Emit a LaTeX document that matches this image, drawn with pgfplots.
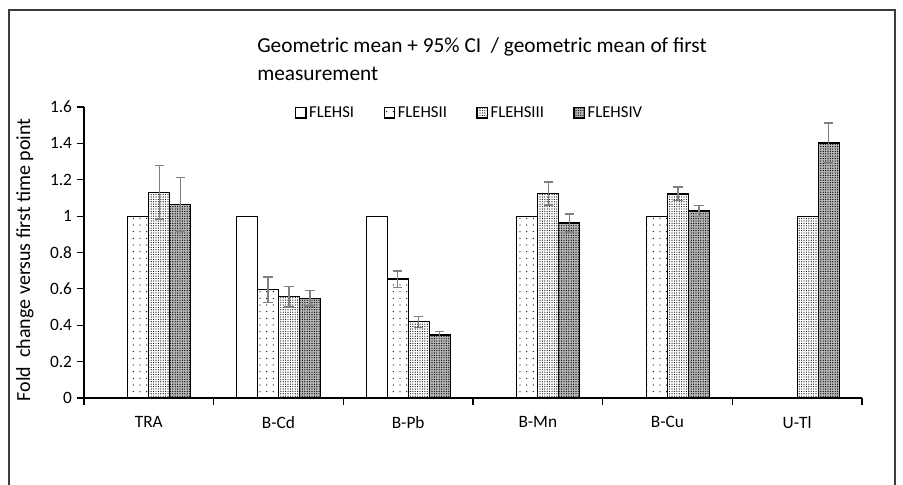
\documentclass[border=0pt]{standalone}
\usepackage{fontspec}
\setmainfont{Carlito}
\usepackage{pgfplots}
\pgfplotsset{compat=1.18}
\usetikzlibrary{patterns.meta}
\definecolor{errgray}{RGB}{128,128,128}
\definecolor{framegray}{RGB}{60,60,60}
\tikzset{
  s1/.style={draw=black, line width=0.9pt, fill=white},
  s2/.style={draw=black, line width=0.9pt, preaction={fill=white}, pattern={Dots[distance=5pt, radius=0.45pt]}, pattern color=black},
  s3/.style={draw=black, line width=0.9pt, preaction={fill=white}, pattern={Dots[distance=1.8pt, radius=0.45pt]}, pattern color=black},
  s4/.style={draw=black, line width=0.9pt, preaction={fill=gray!55}, pattern={Dots[distance=1.8pt, radius=0.5pt]}, pattern color=black},
}
\pgfplotsset{
  myerr/.style={error bars/.cd, y dir=both, y explicit,
    error bar style={errgray, line width=1.1pt},
    error mark options={rotate=90, errgray, mark size=3.6pt, line width=1.1pt}},
  mybar/.style={ybar, bar width=0.162, bar shift=0pt},
}
\begin{document}
\begin{tikzpicture}
\useasboundingbox (0,0) rectangle (677.25pt,363.75pt);
\draw[line width=1.3pt, framegray] (6.5pt,-5pt) -- (6.5pt,356pt) -- (671.5pt,356pt) -- (671.5pt,-5pt);
\node[anchor=west, font=\fontsize{16}{19}\selectfont, inner sep=0pt] at (192.75pt,328.5pt) {Geometric mean + 95\% CI\ \ / geometric mean of first};
\node[anchor=west, font=\fontsize{16}{19}\selectfont, inner sep=0pt] at (192.75pt,308pt) {measurement};
\begin{axis}[
  at={(63pt,65.25pt)}, anchor=south west,
  scale only axis, width=583.5pt, height=218.25pt,
  xmin=-0.5, xmax=5.5, ymin=0, ymax=1.6,
  axis x line*=bottom, axis y line*=left,
  axis line style={line width=0.9pt, -},
  tick align=outside,
  xtick={0,1,2,3,4,5}, xticklabels={TRA,B-Cd,B-Pb,B-Mn,B-Cu,U-Tl},
  major x tick style={draw=none},
  minor xtick={-0.5,0.5,1.5,2.5,3.5,4.5,5.5},
  minor tick length=5.5pt, major tick length=5.5pt,
  minor x tick style={black, line width=0.9pt},
  ytick={0,0.2,0.4,0.6,0.8,1,1.2,1.4,1.6},
  yticklabels={0,0.2,0.4,0.6,0.8,1,1.2,1.4,1.6},
  y tick style={black, line width=0.9pt},
  /pgf/number format/assume math mode=true,
  tick label style={font=\fontsize{13}{15}\selectfont},
  xticklabel style={yshift=-5pt},
  ylabel={Fold\ \ change versus first time point},
  ylabel style={at={(axis description cs:-0.076,0.475)}, anchor=center, font=\fontsize{15}{18}\selectfont},
  legend columns=4,
  legend style={at={(0.496,0.98)}, anchor=center, draw=none, fill=none,
    font=\fontsize{12.5}{14}\selectfont,
    /tikz/every even column/.append style={column sep=20pt}},
  legend image code/.code={\draw[#1, line width=1.1pt] (0pt,-3.8pt) rectangle (7.6pt,3.8pt);},
  clip=false,
]
\addplot[mybar, s1] coordinates {(0.757,1) (1.757,1)};
\addlegendentry{FLEHSI}
\addplot[mybar, s2, myerr] coordinates {(0.919,0.595) +- (0,0.07) (1.919,0.654) +- (0,0.045)};
\addlegendentry{FLEHSII}
\addplot[mybar, s2, forget plot] coordinates {(-0.081,1) (2.919,1) (3.919,1)};
\addplot[mybar, s3, myerr] coordinates {(0.081,1.132) +- (0,0.147) (1.081,0.557) +- (0,0.057) (2.081,0.419) +- (0,0.03) (3.081,1.125) +- (0,0.063) (4.081,1.122) +- (0,0.037)};
\addlegendentry{FLEHSIII}
\addplot[mybar, s3, forget plot] coordinates {(5.081,1)};
\addplot[mybar, s4, myerr] coordinates {(0.243,1.064) +- (0,0.147) (1.243,0.549) +- (0,0.043) (2.243,0.346) +- (0,0.02) (3.243,0.962) +- (0,0.05) (4.243,1.028) +- (0,0.03) (5.243,1.402) +- (0,0.11)};
\addlegendentry{FLEHSIV}
\end{axis}
\end{tikzpicture}
\end{document}
